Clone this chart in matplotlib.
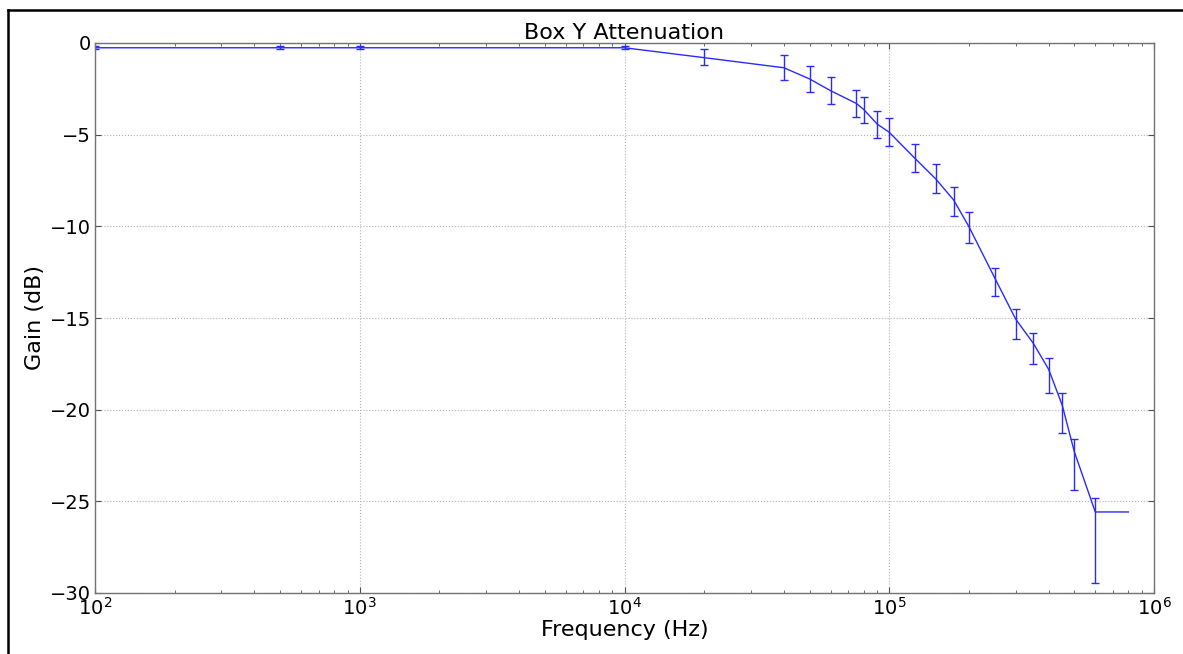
import numpy as np
import matplotlib
matplotlib.use("Agg")
import matplotlib.pyplot as plt
from matplotlib.lines import Line2D


# Data
freq = [1e2, 5e2, 1e3, 1e4, 2e4, 4e4, 5e4, 6e4, 7.5e4, 8e4, 9e4, 1e5,
        1.25e5, 1.5e5, 1.75e5, 2e5, 2.5e5, 3e5, 3.5e5, 4e5, 4.5e5, 5e5,
        6e5, 8e5]
gain = [-0.26, -0.26, -0.26, -0.26, -0.80, -1.35, -1.96, -2.60, -3.29,
        -3.62, -4.42, -4.87, -6.29, -7.42, -8.56, -10.02, -12.80, -15.05,
        -16.38, -17.80, -19.75, -22.29, -25.58, -25.58]
err_low = [0.08, 0.08, 0.08, 0.08, 0.42, 0.69, 0.70, 0.70, 0.73, 0.76,
           0.76, 0.76, 0.76, 0.74, 0.86, 0.91, 1.00, 1.11, 1.15, 1.31,
           1.54, 2.09, 3.89, 0.0]
err_high = [0.08, 0.08, 0.08, 0.08, 0.45, 0.70, 0.69, 0.73, 0.73, 0.67,
            0.71, 0.76, 0.76, 0.80, 0.72, 0.79, 0.55, 0.55, 0.55, 0.60,
            0.64, 0.67, 0.76, 0.0]

W, H = 1183, 654
fig = plt.figure(figsize=(W / 100, H / 100), dpi=100)
ax = fig.add_axes([95 / W, 1 - 593 / H, (1154 - 95) / W, (593 - 43) / H])

f = np.array(freq)
g = np.array(gain)
lo = np.array(err_low)
hi = np.array(err_high)
has_err = (lo + hi) > 0

ax.plot(f, g, color="#2a2aff", linewidth=1.0)
ax.errorbar(f[has_err], g[has_err], yerr=[lo[has_err], hi[has_err]],
            fmt="none", ecolor="#2a2aff", elinewidth=1.0, capsize=3,
            capthick=1.0)

ax.set_xscale("log")
ax.set_xlim(1e2, 1e6)
ax.set_ylim(-30, 0)
ax.set_yticks([0, -5, -10, -15, -20, -25, -30])

ax.grid(True, which="major", linestyle=":", color="0.7", linewidth=0.8)
ax.tick_params(which="both", direction="in", top=True, right=True,
               labelsize=14, color="0.3")
ax.tick_params(which="major", length=4, pad=3)
ax.tick_params(which="minor", length=2)
for sp in ax.spines.values():
    sp.set_color("0.45")
    sp.set_linewidth(1.0)

ax.set_title("Box Y Attenuation", fontsize=16, pad=1)
ax.set_xlabel("Frequency (Hz)", fontsize=16, labelpad=1)
ax.set_ylabel("Gain (dB)", fontsize=16, labelpad=3)

# border from the original screenshot (top and left edges only)
fig.add_artist(Line2D([8 / W, 1], [1 - 10 / H, 1 - 10 / H],
                      transform=fig.transFigure, color="black", linewidth=1.8))
fig.add_artist(Line2D([8 / W, 8 / W], [0, 1 - 10 / H],
                      transform=fig.transFigure, color="black", linewidth=1.8))

fig.savefig("out.png", dpi=100)
